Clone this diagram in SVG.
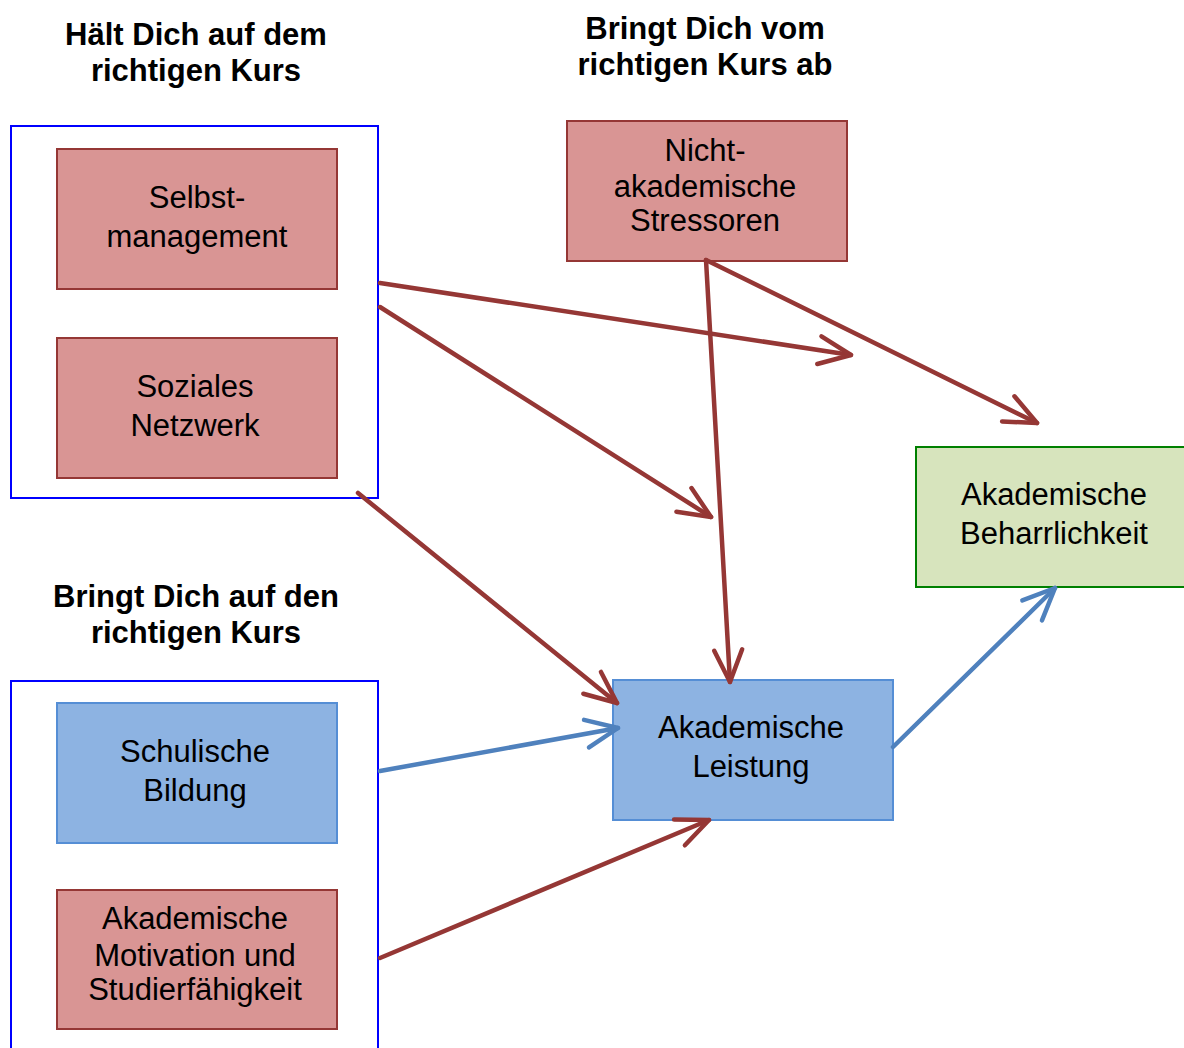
<svg xmlns="http://www.w3.org/2000/svg" width="1184" height="1048" viewBox="0 0 1184 1048">
<style>
text{font-family:"Liberation Sans",Arial,sans-serif;fill:#000;text-anchor:middle}
.t{font-size:31px}
.h{font-size:31px;font-weight:bold}
.grp{fill:#fff;stroke:#0000ff;stroke-width:2}
.red{fill:#d99594;stroke:#953735;stroke-width:2}
.blue{fill:#8db3e2;stroke:#558ed5;stroke-width:2}
.green{fill:#d7e4bd;stroke:#008000;stroke-width:2}
.cr{stroke:#953735;stroke-width:4.5;fill:none;stroke-linecap:round;marker-end:url(#ar)}
.cb{stroke:#4f81bd;stroke-width:4.5;fill:none;stroke-linecap:round;marker-end:url(#ab)}
</style>
<defs>
<marker id="ar" markerUnits="userSpaceOnUse" viewBox="0 0 40 40" markerWidth="40" markerHeight="40" refX="36" refY="20" orient="auto">
<path d="M4,6 L36,20 L4,34" fill="none" stroke="#953735" stroke-width="4.5" stroke-linecap="round" stroke-linejoin="round"/>
</marker>
<marker id="ab" markerUnits="userSpaceOnUse" viewBox="0 0 40 40" markerWidth="40" markerHeight="40" refX="36" refY="20" orient="auto">
<path d="M4,6 L36,20 L4,34" fill="none" stroke="#4f81bd" stroke-width="4.5" stroke-linecap="round" stroke-linejoin="round"/>
</marker>
</defs>
<g id="titles">
<text class="h" x="196" y="45">Hält Dich auf dem</text>
<text class="h" x="196" y="81">richtigen Kurs</text>
<text class="h" x="705" y="39">Bringt Dich vom</text>
<text class="h" x="705" y="75">richtigen Kurs ab</text>
<text class="h" x="196" y="607">Bringt Dich auf den</text>
<text class="h" x="196" y="643">richtigen Kurs</text>
</g>
<g id="group-top"><rect class="grp" x="11" y="126" width="367" height="372"/></g>
<g id="group-bottom"><rect class="grp" x="11" y="681" width="367" height="380"/></g>
<g id="selbstmanagement">
<rect class="red" x="57" y="149" width="280" height="140"/>
<text class="t" x="197" y="208">Selbst-</text>
<text class="t" x="197" y="247">management</text>
</g>
<g id="soziales-netzwerk">
<rect class="red" x="57" y="338" width="280" height="140"/>
<text class="t" x="195" y="397">Soziales</text>
<text class="t" x="195" y="436">Netzwerk</text>
</g>
<g id="schulische-bildung">
<rect class="blue" x="57" y="703" width="280" height="140"/>
<text class="t" x="195" y="762">Schulische</text>
<text class="t" x="195" y="801">Bildung</text>
</g>
<g id="motivation">
<rect class="red" x="57" y="890" width="280" height="139"/>
<text class="t" x="195" y="929">Akademische</text>
<text class="t" x="195" y="966">Motivation und</text>
<text class="t" x="195" y="1000">Studierfähigkeit</text>
</g>
<g id="stressoren">
<rect class="red" x="567" y="121" width="280" height="140"/>
<text class="t" x="705" y="161">Nicht-</text>
<text class="t" x="705" y="197">akademische</text>
<text class="t" x="705" y="231">Stressoren</text>
</g>
<g id="leistung">
<rect class="blue" x="613" y="680" width="280" height="140"/>
<text class="t" x="751" y="738">Akademische</text>
<text class="t" x="751" y="777">Leistung</text>
</g>
<g id="beharrlichkeit">
<rect class="green" x="916" y="447" width="280" height="140"/>
<text class="t" x="1054" y="505">Akademische</text>
<text class="t" x="1054" y="544">Beharrlichkeit</text>
</g>
<g id="connectors">
<line class="cr" x1="380" y1="283" x2="851" y2="355"/>
<line class="cr" x1="380" y1="307" x2="711" y2="517"/>
<line class="cr" x1="358" y1="493" x2="617" y2="703"/>
<line class="cr" x1="706" y1="260" x2="730" y2="682"/>
<line class="cr" x1="706" y1="260" x2="1037" y2="423"/>
<line class="cb" x1="380" y1="771" x2="618" y2="728"/>
<line class="cr" x1="380" y1="958" x2="709" y2="820"/>
<line class="cb" x1="893" y1="747" x2="1055" y2="588"/>
</g>
</svg>
